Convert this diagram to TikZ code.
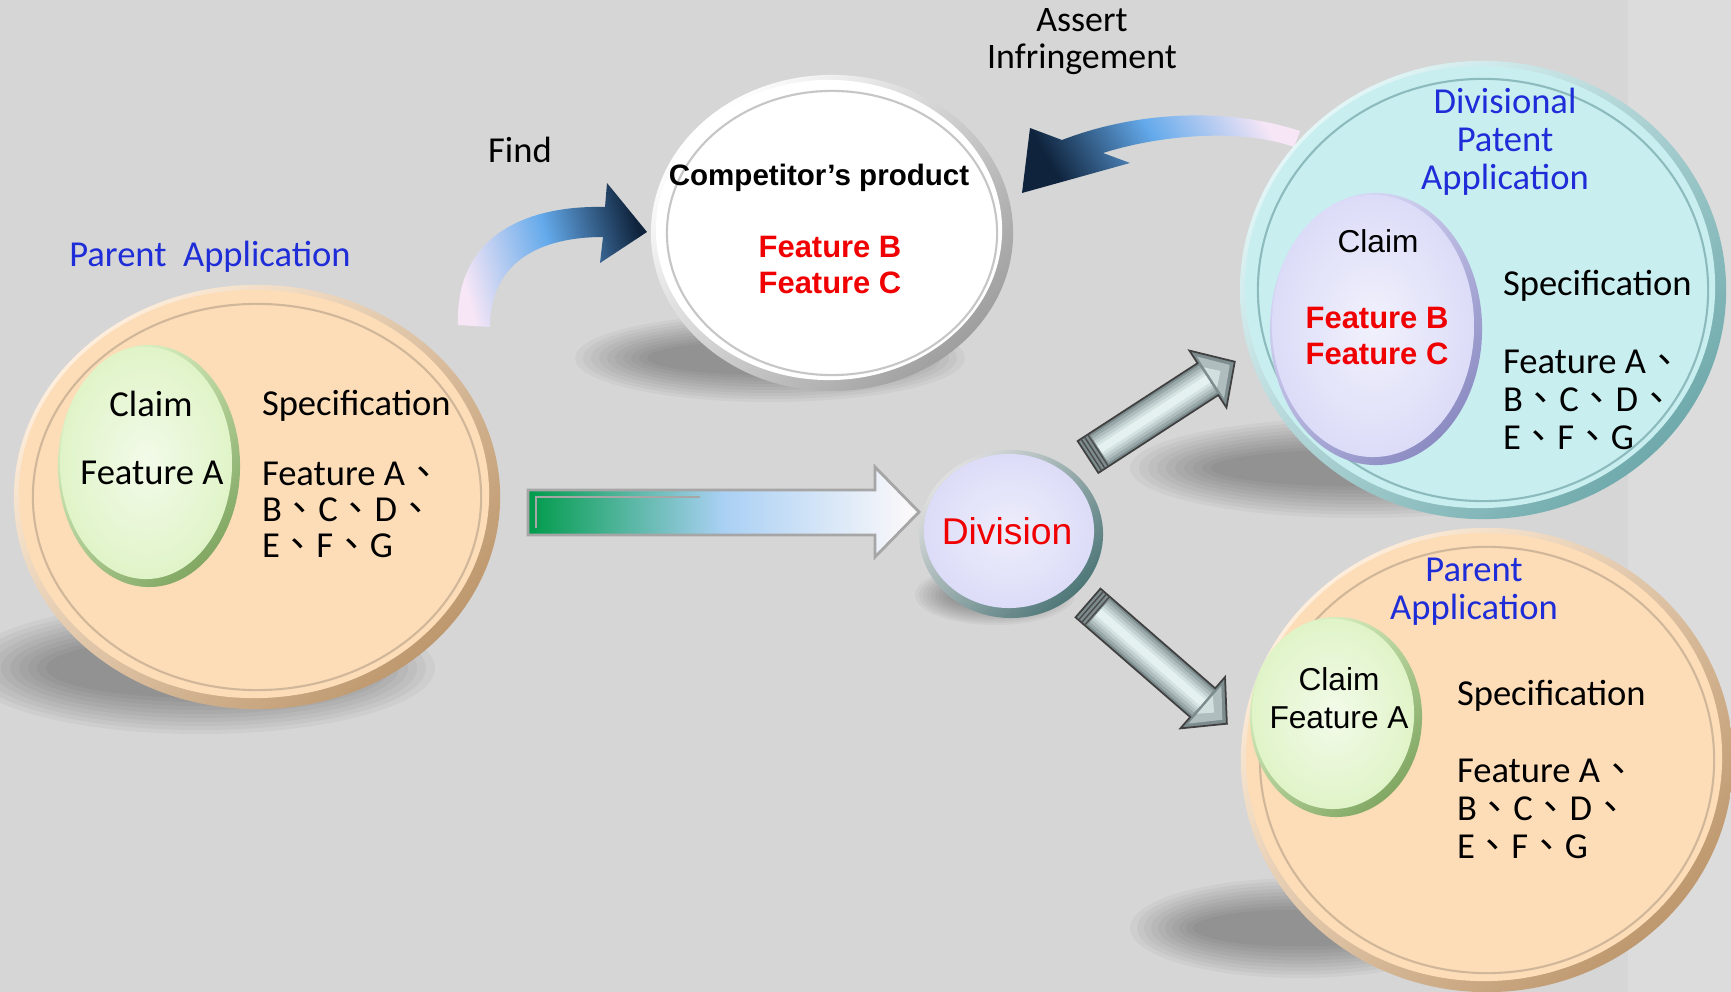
\documentclass[tikz,border=0pt]{standalone}
\usepackage{fontspec}
\setmainfont{Carlito}
\newfontfamily\arialfont{Liberation Sans}
\newfontfamily\cjk{Noto Sans CJK TC}
\usetikzlibrary{shapes.geometric,positioning,calc}
\newcommand{\ideocomma}{{\cjk 、}}
\definecolor{bggray}{RGB}{214,214,214}
\definecolor{peach}{RGB}{253,221,184}
\definecolor{peachrim}{RGB}{190,152,110}
\definecolor{mint}{RGB}{224,244,200}
\definecolor{mintrim}{RGB}{130,168,100}
\definecolor{aqua}{RGB}{200,238,240}
\definecolor{aquarim}{RGB}{112,170,172}
\definecolor{lilac}{RGB}{220,220,248}
\definecolor{lilacrim}{RGB}{140,140,195}
\definecolor{appblue}{RGB}{30,45,215}
\definecolor{featred}{RGB}{240,0,0}
\definecolor{navyd}{RGB}{15,35,60}
\definecolor{skyb}{RGB}{100,170,235}
\definecolor{palepink}{RGB}{246,230,246}
\definecolor{arrowgreen}{RGB}{0,155,75}
\definecolor{steel}{RGB}{125,140,142}
\definecolor{frost}{RGB}{238,250,250}

\begin{document}
\begin{tikzpicture}[x=0.01cm,y=-0.01cm,inner sep=0pt,outer sep=0pt,
  font=\fontsize{10.4}{10.8}\selectfont,
  disc/.style={ellipse},
  rim/.style 2 args={disc,shade,top color=#1,bottom color=#2,shading angle=45},
  face/.style={disc,fill=#1},
  glow/.style 2 args={disc,shade,inner color=#1,outer color=#2},
  ring/.style={disc,draw=#1,line width=0.6pt},
  halo/.style={black,opacity=0.035},
  bluetxt/.style={text=appblue,align=center},
  listtxt/.style={align=left,anchor=west},
  redtxt/.style={text=featred,align=center,font=\arialfont\bfseries\fontsize{8.8}{10.5}\selectfont},
  arialtxt/.style={align=center,font=\arialfont\fontsize{9}{10.8}\selectfont},
  bendarrow/.style={top color=navyd,bottom color=palepink,middle color=skyb,shading angle=#1},
  greenarrow/.style={draw=gray!70,line width=0.8pt,left color=arrowgreen,right color=white!92!pink,middle color=skyb!55!white},
  silverline/.style={draw=gray!50!black,line width=0.5pt}]
\useasboundingbox (0,0) rectangle (1731,992);
\fill[bggray] (0,0) rectangle (1731,992);
\fill[white,opacity=0.15] (1628,0) rectangle (1731,992);

\foreach \k in {0,...,9}{
  \fill[halo] (200,668) ellipse [x radius=235-9*\k, y radius=66-4*\k];
  \fill[halo] (770,358) ellipse [x radius=195-8*\k, y radius=44-3*\k];
  \fill[halo] (1360,468) ellipse [x radius=230-9*\k, y radius=50-3.5*\k];
  \fill[halo] (1300,928) ellipse [x radius=170-7*\k, y radius=50-3.5*\k];
  \fill[halo] (995,595) ellipse [x radius=80-4*\k, y radius=30-2*\k];
}

\path[bendarrow=-75] (458,325) .. controls (455,240) and (520,205) .. (605,207) -- (607,183) -- (647,232) -- (600,263) -- (603,237) .. controls (540,237) and (490,262) .. (490,327) -- cycle;
\path[bendarrow=120] (1300,131) .. controls (1230,108) and (1140,110) .. (1062,140) -- (1030,128) -- (1022,193) -- (1130,163) -- (1103,153) .. controls (1160,135) and (1240,128) .. (1294,147) -- cycle;
\path[greenarrow] (528,490) -- (875,490) -- (875,467) -- (919,512) -- (875,557) -- (875,535) -- (528,535) -- cycle;
\draw[black!35,line width=0.5pt] (536,528) -- (536,497) -- (700,497);

\coordinate (upTail) at (1088,457);
\coordinate (downTail) at (1088,603);
\foreach \tail/\ang/\len in {upTail/33/175,downTail/-41/184}{
  \begin{scope}[shift={(\tail)},rotate=\ang]
    \fill[steel] (0,-19) -- (\len-32,-19) -- (\len-32,-34) -- (\len,0) -- (\len-32,34) -- (\len-32,19) -- (0,19) -- cycle;
    \foreach \hw/\tn in {16/25,13/45,10/62,7/78,4/92}
      \fill[frost!\tn!steel] (14,-\hw) rectangle (\len-32,\hw);
    \fill[frost!45!steel] (\len-29,-25) -- (\len-6,0) -- (\len-29,25) -- cycle;
    \fill[frost!75!steel] (\len-29,-12) -- (\len-17,0) -- (\len-29,12) -- cycle;
    \path[silverline] (0,-19) -- (\len-32,-19) -- (\len-32,-34) -- (\len,0) -- (\len-32,34) -- (\len-32,19) -- (0,19) -- cycle;
    \foreach \s in {4,8,12} \draw[gray!60!black,line width=0.4pt] (\s,-19) -- (\s,19);
  \end{scope}
}

\node[rim={peach!50!white}{peachrim},minimum width=4.86cm,minimum height=4.24cm] (parL) at (257,497) {};
\node[face=peach,minimum width=4.70cm,minimum height=4.08cm] (parLface) at (254,494) {};
\node[ring=peachrim!70,minimum width=4.48cm,minimum height=3.86cm] (parLring) at (257,497) {};
\node[rim={mint}{mintrim},minimum width=1.82cm,minimum height=2.42cm] (clmL) at (149,466) {};
\node[glow={mint!40!white}{mint},minimum width=1.72cm,minimum height=2.32cm] (clmLface) at (146,463) {};

\node[rim={white}{gray!75},minimum width=3.62cm,minimum height=3.16cm] (comp) at (832,233) {};
\node[face=white,minimum width=3.46cm,minimum height=3.00cm] (compface) at (829,230) {};
\node[ring=gray!45,minimum width=3.30cm,minimum height=2.84cm] (compring) at (832,233) {};

\node[rim={aqua!50!white}{aquarim},minimum width=4.86cm,minimum height=4.58cm] (divP) at (1483,290) {};
\node[face=aqua,minimum width=4.70cm,minimum height=4.42cm] (divPface) at (1480,287) {};
\node[ring=aquarim!80,minimum width=4.50cm,minimum height=4.22cm] (divPring) at (1483,290) {};
\node[rim={lilac}{lilacrim},minimum width=2.12cm,minimum height=2.72cm] (clmD) at (1376,329) {};
\node[glow={lilac!40!white}{lilac},minimum width=2.02cm,minimum height=2.62cm] (clmDface) at (1373,326) {};

\node[rim={peach!50!white}{peachrim},minimum width=4.92cm,minimum height=4.64cm] (parR) at (1487,760) {};
\node[face=peach,minimum width=4.76cm,minimum height=4.48cm] (parRface) at (1484,757) {};
\node[ring=peachrim!70,minimum width=4.54cm,minimum height=4.26cm] (parRring) at (1487,760) {};
\node[rim={mint}{mintrim},minimum width=1.72cm,minimum height=2.00cm] (clmR) at (1336,717) {};
\node[glow={mint!40!white}{mint},minimum width=1.62cm,minimum height=1.90cm] (clmRface) at (1333,714) {};

\node[rim={gray!25}{aquarim!70!black},minimum width=1.84cm,minimum height=1.68cm] (div) at (1011,534) {};
\node[glow={lilac!50!white}{lilac},minimum width=1.70cm,minimum height=1.54cm] (divface) at (1009,531) {};

\node[bluetxt] (parLtitle) at (210,257) {Parent\ \ Application};
\node (parLclaim) at (151,404) {Claim};
\node (parLfeat) at (152,473) {Feature A};
\node[listtxt] (parLspec) at (262,406) {Specification};
\node[listtxt,font=\fontsize{10.4}{10.3}\selectfont] (parLlist) at (262,510) {Feature A\ideocomma\\B\ideocomma C\ideocomma D\ideocomma\\E\ideocomma F\ideocomma G};

\node (find) at (520,150) {Find};
\node[align=center,font=\fontsize{10.2}{10.5}\selectfont] (assert) at (1082,42) {Assert\\Infringement};

\node[font=\arialfont\bfseries\fontsize{8.4}{10}\selectfont] (comptitle) at (819,178) {Competitor’s product};
\node[redtxt] (compfeat) at (830,265) {Feature B\\Feature C};

\node[text=featred,font=\arialfont\fontsize{10.6}{12}\selectfont] (divtxt) at (1007,531) {Division};

\node[bluetxt] (divPtitle) at (1505,142) {Divisional\\Patent\\Application};
\node[arialtxt] (divPclaim) at (1378,241) {Claim};
\node[redtxt] (divPfeat) at (1377,336) {Feature B\\Feature C};
\node[listtxt] (divPspec) at (1503,286) {Specification};
\node[listtxt] (divPlist) at (1503,400) {Feature A\ideocomma\\B\ideocomma C\ideocomma D\ideocomma\\E\ideocomma F\ideocomma G};

\node[bluetxt] (parRtitle) at (1474,592) {Parent\\Application};
\node[arialtxt] (parRclaim) at (1339,698) {Claim\\Feature A};
\node[listtxt] (parRspec) at (1457,696) {Specification};
\node[listtxt] (parRlist) at (1457,809) {Feature A\ideocomma\\B\ideocomma C\ideocomma D\ideocomma\\E\ideocomma F\ideocomma G};
\end{tikzpicture}
\end{document}
